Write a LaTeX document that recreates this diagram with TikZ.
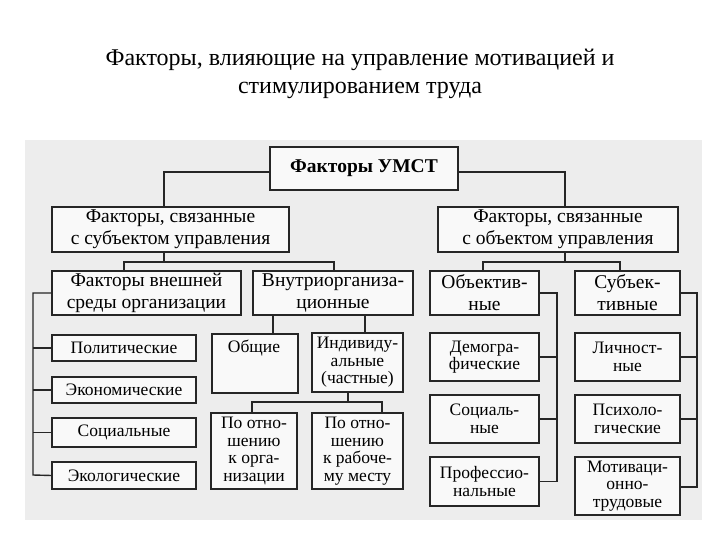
\documentclass[tikz,border=0pt]{standalone}
\usepackage{fontspec}
\setmainfont{Liberation Serif}
\begin{document}
\begin{tikzpicture}[x=1pt,y=-1pt,
  bx/.style={draw=black!85,line width=1.6pt,fill=white!95!gray,align=center,inner sep=0pt,font=\fontsize{17.5}{17.5}\selectfont},
  hd/.style={font=\fontsize{19.5}{22}\selectfont},
  ln/.style={draw=black!85,line width=1.4pt}]
\useasboundingbox (0,0) rectangle (720,540);
\fill[black!7] (25,140) rectangle (702,520);
\node[font=\fontsize{24}{28}\selectfont,align=center] (title) at (360,74) {Факторы, влияющие на управление мотивацией и\\стимулированием труда};
\newcommand{\bxn}[7][]{\node[bx,#1,minimum width=#5-#3,minimum height=#6-#4] (#2) at ({(#3+#5)/2},{(#4+#6)/2}) {#7};}
\bxn[font={\fontsize{19.5}{22}\selectfont\bfseries}]{top}{270}{147}{458}{190}{Факторы УМСТ}
\bxn[hd]{subj}{52}{207}{289}{252}{Факторы, связанные\\с субъектом управления}
\bxn[hd]{obj}{438}{207}{678}{252}{Факторы, связанные\\с объектом управления}
\bxn[hd]{ext}{52}{271}{241}{315}{Факторы внешней\\среды организации}
\bxn[hd]{int}{253}{271}{413}{315}{Внутриорганиза-\\ционные}
\bxn[hd]{objv}{430}{271}{539}{315}{Объектив-\\ные}
\bxn[hd]{subv}{575}{271}{680}{315}{Субъек-\\тивные}
\bxn{pol}{52}{335}{196}{361}{Политические}
\bxn{eco}{52}{377}{196}{403}{Экономические}
\bxn{soc}{52}{418}{196}{447}{Социальные}
\bxn{ecl}{52}{462}{196}{489}{Экологические}
\node[bx,minimum width=86,minimum height=59,anchor=north west] (gen) at (211,333) {};
\node[font=\fontsize{17.5}{17.5}\selectfont,anchor=north] (gent) at (254,336) {Общие};
\bxn{ind}{312}{333}{403}{392}{Индивиду-\\альные\\(частные)}
\bxn{org}{211}{413}{297}{489}{По отно-\\шению\\к орга-\\низации}
\bxn{wrk}{312}{413}{403}{489}{По отно-\\шению\\к рабоче-\\му месту}
\bxn{dem}{430}{333}{539}{381}{Демогра-\\фические}
\bxn{soc2}{430}{395}{539}{443}{Социаль-\\ные}
\bxn{prof}{430}{457}{539}{506}{Профессио-\\нальные}
\bxn{lich}{575}{333}{680}{381}{Личност-\\ные}
\bxn{psy}{575}{395}{680}{443}{Психоло-\\гические}
\bxn{mot}{575}{457}{680}{515}{Мотиваци-\\онно-\\трудовые}
% connectors
\draw[ln] (top.west|-0,172) -| (subj.north-|164,0);
\draw[ln] (top.east|-0,172) -| (obj.north-|565,0);
\draw[ln] (subj.south-|164,0) -- (164,262);
\draw[ln] (ext.north-|124,0) |- (334,262) -- (int.north-|334,0);
\draw[ln] (obj.south-|565,0) -- (565,262);
\draw[ln] (objv.north-|483,0) |- (620,262) -- (subv.north-|620,0);
\draw[ln] (ext.west) -| (33,475) -- (ecl.west);
\foreach \n in {pol,eco,soc}{\draw[ln] (33,0|-\n.west) -- (\n.west);}
\draw[ln] (int.south-|273,0) -- (gen.north-|273,0);
\draw[ln] (int.south-|365,0) -- (ind.north-|365,0);
\draw[ln] (ind.south-|348,0) -- (348,402);
\draw[ln] (org.north-|252,0) |- (382,402) -- (wrk.north-|382,0);
\draw[ln] (objv.east) -| (557,0|-prof.east) -- (prof.east);
\foreach \n in {dem,soc2}{\draw[ln] (557,0|-\n.east) -- (\n.east);}
\draw[ln] (subv.east) -| (697,487) -- (mot.east|-0,487);
\foreach \n in {lich,psy}{\draw[ln] (697,0|-\n.east) -- (\n.east);}
\end{tikzpicture}
\end{document}
